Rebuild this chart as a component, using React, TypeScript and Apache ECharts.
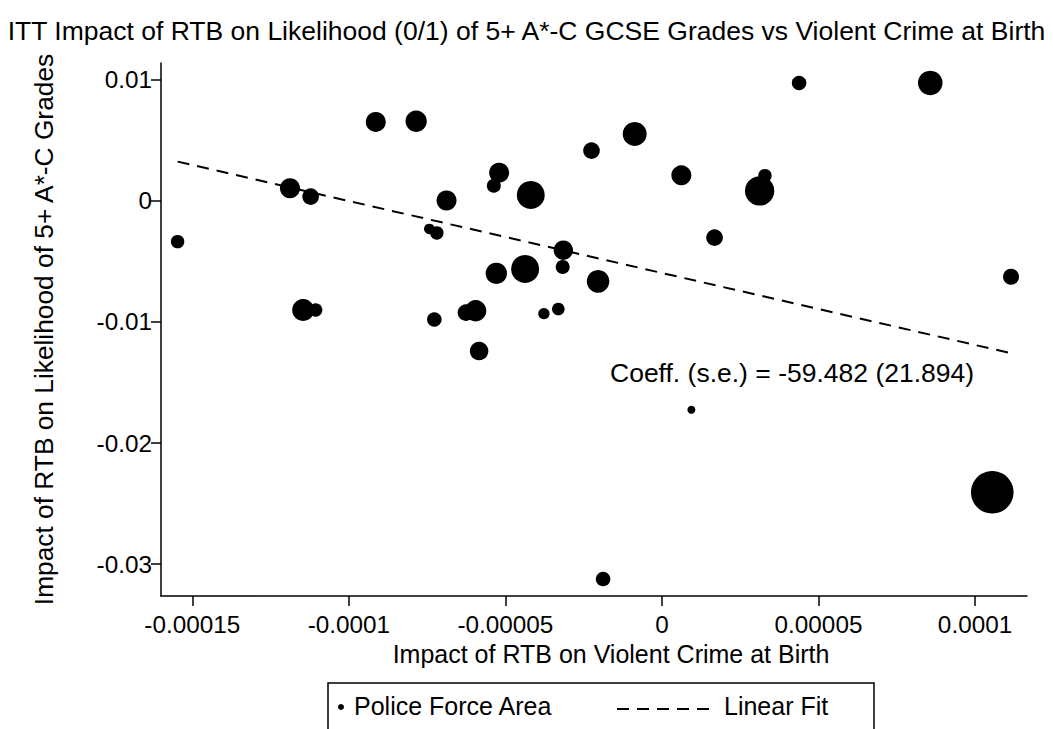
import React, { useEffect, useRef } from "react";
import * as echarts from "echarts";

// Impact of RTB on violent crime at birth (x) vs impact on 5+ A*-C GCSE likelihood (y)
const xVals = [
  -0.0001547, -0.0001188, -0.0001122, -0.0000914, -0.0000785, -0.0001146, -0.0001106,
  -0.0000727, -0.0000743, -0.0000719, -0.0000688, -0.000052, -0.0000537, -0.0000419,
  -0.0000225, -0.0000087, 0.0000062, 0.0000168, -0.0000315, -0.0000317, -0.0000437,
  -0.0000529, -0.0000204, -0.0000595, -0.0000626, -0.0000377, -0.0000331, -0.0000584,
  0.0000438, 0.0000857, 0.0000312, 0.0000329, 0.0001115, 0.0000094, -0.0000188, 0.0001055,
];
const yVals = [
  -0.00336, 0.00105, 0.00036, 0.00653, 0.00659, -0.00901, -0.00901,
  -0.00979, -0.00231, -0.00264, 0.00004, 0.00234, 0.00126, 0.0005,
  0.00416, 0.00554, 0.00212, -0.00303, -0.00407, -0.00545, -0.00562,
  -0.00598, -0.00664, -0.00907, -0.00923, -0.00931, -0.00893, -0.0124,
  0.00975, 0.00975, 0.00083, 0.00209, -0.00626, -0.01725, -0.03124, -0.02407,
];
// analytic weights (marker area)
const weights = [
  45, 100, 69, 100, 114, 121, 45,
  53, 28, 45, 100, 100, 49, 196,
  69, 144, 100, 69, 94, 49, 196,
  114, 128, 114, 69, 32, 40, 86,
  53, 151, 216, 45, 64, 16, 53, 454,
];

const fitSlope = -59.482;
const fitSE = 21.894;
const fitIntercept = -0.00595;

const xTicks = [-0.00015, -0.0001, -0.00005, 0, 0.00005, 0.0001];
const xTickLabels = ["-0.00015", "-0.0001", "-0.00005", "0", "0.00005", "0.0001"];
const yTicks = [-0.03, -0.02, -0.01, 0, 0.01];
const yTickLabels = ["-0.03", "-0.02", "-0.01", "0", "0.01"];

const titleText = "ITT Impact of RTB on Likelihood (0/1) of 5+ A*-C GCSE Grades vs Violent Crime at Birth";
const xName = "Impact of RTB on Violent Crime at Birth";
const yName = "Impact of RTB on Likelihood of 5+ A*-C Grades";
const legendNames = ["Police Force Area", "Linear Fit"];

const FONT = "'Liberation Sans', Arial, Helvetica, sans-serif";

function lookup(ticks: number[], labels: string[], v: number) {
  const i = ticks.findIndex((t) => Math.abs(t - v) < 1e-10);
  return i >= 0 ? labels[i] : "";
}

export default function App() {
  const ref = useRef<HTMLDivElement>(null);
  useEffect(() => {
    if (!ref.current) return;
    const chart = echarts.init(ref.current, null, { renderer: "svg" });
    const points = xVals.map((x, i) => [x, yVals[i], weights[i]]);
    const xMin = Math.min(...xVals);
    const xMax = Math.max(...xVals);
    const fit = [
      [xMin, fitIntercept + fitSlope * xMin],
      [xMax, fitIntercept + fitSlope * xMax],
    ];
    chart.setOption({
      animation: false,
      backgroundColor: "#ffffff",
      textStyle: { fontFamily: FONT },
      title: {
        text: titleText,
        left: "center",
        top: 12,
        textStyle: { fontFamily: FONT, fontSize: 26.5, fontWeight: "normal", color: "#000" },
      },
      grid: { left: 161, top: 63, right: 26, bottom: 133 },
      xAxis: {
        type: "value",
        min: -0.00016,
        max: 0.0001166,
        name: xName,
        nameLocation: "middle",
        nameGap: 45,
        nameTextStyle: { fontFamily: FONT, fontSize: 25, color: "#000", padding: [0, 0, 0, 34] },
        axisLine: { show: true, onZero: false, lineStyle: { color: "#000", width: 1.5 } },
        axisTick: { show: true, length: 10, customValues: xTicks, lineStyle: { color: "#000", width: 1.5 } },
        axisLabel: {
          customValues: xTicks,
          margin: 16,
          fontFamily: FONT,
          fontSize: 24.3,
          color: "#000",
          formatter: (v: number) => lookup(xTicks, xTickLabels, v),
        },
        splitLine: { show: false },
      },
      yAxis: {
        type: "value",
        min: -0.03264,
        max: 0.0114,
        name: yName,
        nameLocation: "middle",
        nameGap: 104,
        nameTextStyle: { fontFamily: FONT, fontSize: 26.3, color: "#000" },
        axisLine: { show: true, onZero: false, lineStyle: { color: "#000", width: 1.5 } },
        axisTick: { show: true, length: 10, customValues: yTicks, lineStyle: { color: "#000", width: 1.5 } },
        axisLabel: {
          customValues: yTicks,
          margin: 9,
          fontFamily: FONT,
          fontSize: 24.3,
          color: "#000",
          formatter: (v: number) => lookup(yTicks, yTickLabels, v),
        },
        splitLine: { show: false },
      },
      series: [
        {
          name: legendNames[0],
          type: "scatter",
          data: points,
          symbol: "circle",
          symbolSize: (d: number[]) => 2 * Math.sqrt(d[2]),
          itemStyle: { color: "#000", opacity: 1 },
          z: 3,
        },
        {
          name: legendNames[1],
          type: "line",
          data: fit,
          symbol: "none",
          lineStyle: { color: "#000", width: 2, type: [12, 8] },
          z: 2,
        },
      ],
      graphic: [
        {
          type: "text",
          x: 610,
          y: 373,
          style: {
            text: `Coeff. (s.e.) = ${fitSlope.toFixed(3)} (${fitSE.toFixed(3)})`,
            fontFamily: FONT,
            fontSize: 26.5,
            fill: "#000",
            verticalAlign: "middle",
          },
        },
        {
          type: "rect",
          shape: { x: 328, y: 683, width: 546, height: 70 },
          style: { fill: "#fff", stroke: "#000", lineWidth: 1.5 },
        },
        { type: "circle", shape: { cx: 341, cy: 707, r: 3 }, style: { fill: "#000" } },
        {
          type: "text",
          x: 354,
          y: 706,
          style: { text: legendNames[0], fontFamily: FONT, fontSize: 25, fill: "#000", verticalAlign: "middle" },
        },
        {
          type: "line",
          shape: { x1: 617, y1: 709, x2: 711, y2: 709 },
          style: { stroke: "#000", lineWidth: 2, lineDash: [12, 8] },
        },
        {
          type: "text",
          x: 724,
          y: 706,
          style: { text: legendNames[1], fontFamily: FONT, fontSize: 25, fill: "#000", verticalAlign: "middle" },
        },
      ],
    });
    return () => chart.dispose();
  }, []);
  return <div ref={ref} style={{ width: 1053, height: 729, position: "absolute", left: 0, top: 0 }} />;
}
